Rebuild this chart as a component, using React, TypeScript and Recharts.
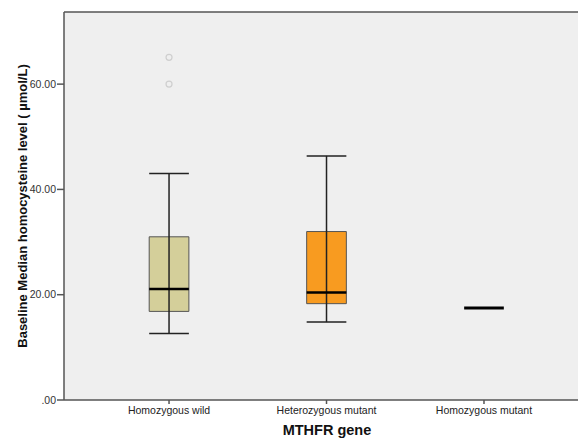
import React from 'react';
import {
  ComposedChart,
  XAxis,
  YAxis,
  CartesianGrid,
  ReferenceArea,
  ReferenceLine,
  Scatter,
  Label,
} from 'recharts';

const categories = ['Homozygous wild', 'Heterozygous mutant', 'Homozygous mutant'];
const positions = [1, 2, 3];
const whiskerLow = [12.65, 14.8, 17.46];
const q1 = [16.83, 18.3, 17.46];
const median = [21.07, 20.44, 17.46];
const q3 = [31.0, 32.0, 17.46];
const whiskerHigh = [43.0, 46.37, 17.46];
const boxColors = ['#d4cf9a', '#f89b20', '#f89b20'];
const outliers = [
  { x: 1, y: 65.1 },
  { x: 1, y: 60.0 },
];
const yTicks = [0, 20, 40, 60];

const HALF = 0.126;
const Y_MAX = 73.7;
const X_DOMAIN: [number, number] = [0.333, 3.597];

const fmtY = (v: number) => (v === 0 ? '.00' : v.toFixed(2));
const fmtX = (v: number) => {
  const i = positions.indexOf(v);
  return i >= 0 ? categories[i] : '';
};

const OutlierDot = (props: any) => {
  const { cx, cy } = props;
  if (cx == null || cy == null) return null;
  return <circle cx={cx} cy={cy} r={3} fill="none" stroke="#cfcfcf" strokeWidth={1.2} />;
};

export default function App() {
  const boxes: React.ReactNode[] = [];
  positions.forEach((p, i) => {
    const flat = q1[i] === q3[i];
    if (!flat) {
      boxes.push(
        <ReferenceLine
          key={`wv-${i}`}
          segment={[{ x: p, y: whiskerLow[i] }, { x: p, y: whiskerHigh[i] }]}
          stroke="#222"
          strokeWidth={1.5}
          isFront
        />
      );
      boxes.push(
        <ReferenceLine
          key={`wl-${i}`}
          segment={[{ x: p - HALF, y: whiskerLow[i] }, { x: p + HALF, y: whiskerLow[i] }]}
          stroke="#222"
          strokeWidth={1.5}
          isFront
        />
      );
      boxes.push(
        <ReferenceLine
          key={`wh-${i}`}
          segment={[{ x: p - HALF, y: whiskerHigh[i] }, { x: p + HALF, y: whiskerHigh[i] }]}
          stroke="#222"
          strokeWidth={1.5}
          isFront
        />
      );
      boxes.push(
        <ReferenceArea
          key={`box-${i}`}
          x1={p - HALF}
          x2={p + HALF}
          y1={q1[i]}
          y2={q3[i]}
          fill={boxColors[i]}
          fillOpacity={1}
          stroke="#555"
          strokeWidth={1}
          isFront
        />
      );
    }
    boxes.push(
      <ReferenceLine
        key={`med-${i}`}
        segment={[{ x: p - HALF, y: median[i] }, { x: p + HALF, y: median[i] }]}
        stroke="#000"
        strokeWidth={flat ? 3 : 2.5}
        isFront
      />
    );
  });

  return (
    <div style={{ position: 'absolute', left: 0, top: 0, background: '#fff' }}>
      <ComposedChart
        width={578}
        height={441}
        margin={{ top: 12, right: 0, bottom: 0, left: 0 }}
      >
        <CartesianGrid fill="#efefef" horizontal={false} vertical={false} />
        <XAxis
          type="number"
          dataKey="x"
          domain={X_DOMAIN}
          ticks={positions}
          tickFormatter={fmtX}
          allowDataOverflow
          height={41}
          stroke="#555"
          strokeWidth={1.5}
          tickSize={4}
          tickMargin={3}
          tick={{ fill: '#222', fontSize: 10.5, fontFamily: 'Liberation Sans, Arial, sans-serif' }}
        >
          <Label
            content={() => (
              <text
                x={327}
                y={435}
                textAnchor="middle"
                fontFamily="Liberation Sans, Arial, sans-serif"
                fontWeight="bold"
                fontSize={14.5}
                fill="#111"
              >
                MTHFR gene
              </text>
            )}
          />
        </XAxis>
        <YAxis
          type="number"
          domain={[0, Y_MAX]}
          ticks={yTicks}
          tickFormatter={fmtY}
          allowDataOverflow
          width={64}
          stroke="#555"
          strokeWidth={1.5}
          tickSize={7}
          tickMargin={1}
          tick={{ fill: '#333', fontSize: 10.5, fontFamily: 'Liberation Sans, Arial, sans-serif' }}
        >
          <Label
            content={() => (
              <text
                x={22}
                y={206}
                transform="rotate(-90 22 206)"
                textAnchor="middle"
                dominantBaseline="central"
                fontFamily="Liberation Sans, Arial, sans-serif"
                fontWeight="bold"
                fontSize={13}
                fill="#111"
              >
                Baseline Median homocysteine level ( µmol/L)
              </text>
            )}
          />
        </YAxis>
        <ReferenceLine y={Y_MAX} stroke="#555" strokeWidth={1.5} />
        {boxes}
        <Scatter
          data={outliers}
          dataKey="y"
          shape={<OutlierDot />}
          isAnimationActive={false}
        />
      </ComposedChart>
    </div>
  );
}
